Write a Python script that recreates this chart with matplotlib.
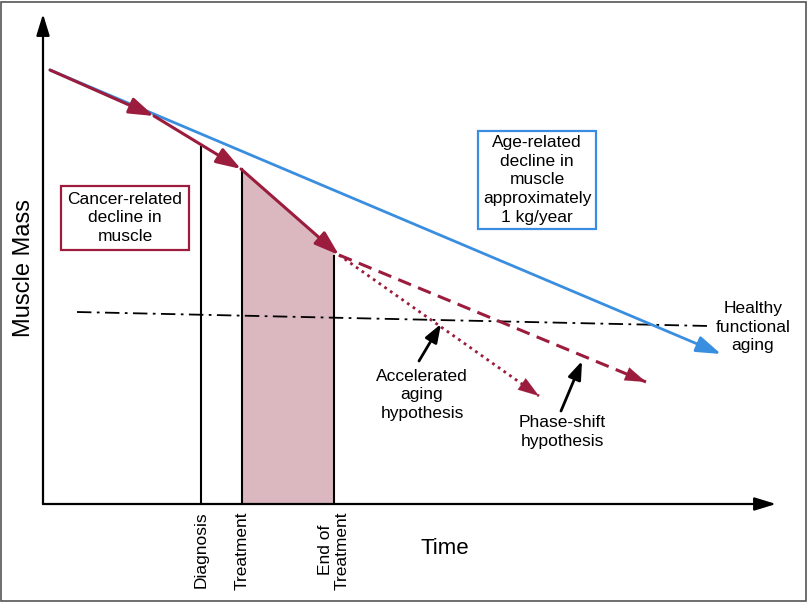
import numpy as np
import matplotlib.pyplot as plt
from matplotlib.patches import Rectangle

plt.rcParams['font.family'] = ['Liberation Sans', 'DejaVu Sans']

# schematic data (time, muscle mass) in chart units from the origin
age_line = [(7, 434), (678, 150)]
cancer_line_x = [7, 111, 198, 296]
cancer_line_y = [434, 388, 335, 249]
accel_end = (496, 108)
phase_end = (603, 122)
healthy_x = [34, 666]
healthy_y = [192, 178]
event_x = [158, 199, 291]
event_top = [357, 335, 248]
event_labels = ['Diagnosis', 'Treatment', 'End of\nTreatment']

red = '#9b1c3c'
blue = '#3a8ee0'
shade = '#dbb8bf'

fig = plt.figure(figsize=(8.07, 6.03), dpi=100)
# axes placed so one unit is one pixel, origin at the axis corner
ax = fig.add_axes([43 / 807, (603 - 504) / 603, (776 - 43) / 807, (504 - 14) / 603])
ax.set_xlim(0, 733)
ax.set_ylim(0, 490)
ax.axis('off')

head = '-|>,head_length=1.5,head_width=0.5'

# axes arrows
ax.annotate('', xy=(733, 0), xytext=(0, 0),
            arrowprops=dict(arrowstyle='-|>,head_length=1.3,head_width=0.4', color='black', lw=1.6,
                            shrinkA=0, shrinkB=0), annotation_clip=False)
ax.annotate('', xy=(0, 490), xytext=(0, 0),
            arrowprops=dict(arrowstyle='-|>,head_length=1.3,head_width=0.4', color='black', lw=1.6,
                            shrinkA=0, shrinkB=0), annotation_clip=False)

# shaded treatment period
xs = np.array([event_x[1], event_x[2]])
ys = np.interp(xs, cancer_line_x, cancer_line_y)
ax.fill_between(xs, 0, ys, color=shade, lw=0)

# event vertical lines
for x, top in zip(event_x, event_top):
    ax.plot([x, x], [0, top], color='black', lw=1.5)

# healthy functional aging
ax.plot(healthy_x, healthy_y, color='black', lw=1.3, dashes=[8, 3, 1.5, 3])

# age related decline
ax.annotate('', xy=age_line[1], xytext=age_line[0],
            arrowprops=dict(arrowstyle=head, color=blue, lw=2,
                            shrinkA=0, shrinkB=0))

# cancer related decline, segment by segment
for i in range(3):
    ax.annotate('', xy=(cancer_line_x[i + 1], cancer_line_y[i + 1]),
                xytext=(cancer_line_x[i], cancer_line_y[i]),
                arrowprops=dict(arrowstyle=head, color=red, lw=2.2,
                                shrinkA=0, shrinkB=0))

start = (cancer_line_x[-1], cancer_line_y[-1])
ax.plot([start[0], accel_end[0]], [start[1], accel_end[1]], color=red, lw=2, ls=(0, (1, 1.5)))
ax.annotate('', xy=accel_end, xytext=(accel_end[0] - 12, accel_end[1] + 8.4),
            arrowprops=dict(arrowstyle=head, color=red, lw=0.1,
                            shrinkA=0, shrinkB=0))
ax.plot([start[0], phase_end[0]], [start[1], phase_end[1]], color=red, lw=2.2, ls=(0, (4.5, 2.5)))
ax.annotate('', xy=phase_end, xytext=(phase_end[0] - 12, phase_end[1] + 5),
            arrowprops=dict(arrowstyle=head, color=red, lw=0.1,
                            shrinkA=0, shrinkB=0))

# pointer arrows
ax.annotate('', xy=(398, 180), xytext=(376, 143),
            arrowprops=dict(arrowstyle='-|>,head_length=1.1,head_width=0.4', color='black', lw=2,
                            shrinkA=0, shrinkB=0))
ax.annotate('', xy=(539, 143), xytext=(518, 93),
            arrowprops=dict(arrowstyle='-|>,head_length=1.1,head_width=0.4', color='black', lw=2,
                            shrinkA=0, shrinkB=0))

fs = 12.5
ls = 1.3
ax.text(379, 109, 'Accelerated\naging\nhypothesis', ha='center', va='center', fontsize=fs, linespacing=ls)
ax.text(519, 72, 'Phase-shift\nhypothesis', ha='center', va='center', fontsize=fs, linespacing=ls)
ax.text(710, 177, 'Healthy\nfunctional\naging', ha='center', va='center', fontsize=fs, linespacing=ls)

ax.text(82, 286, 'Cancer-related\ndecline in\nmuscle', ha='center', va='center', fontsize=fs,
        linespacing=ls,
        bbox=dict(boxstyle='square,pad=0.35', fc='white', ec=red, lw=1.6))
ax.text(494, 324, 'Age-related\ndecline in\nmuscle\napproximately\n1 kg/year', ha='center', va='center',
        fontsize=fs, linespacing=ls,
        bbox=dict(boxstyle='square,pad=0.25', fc='white', ec=blue, lw=1.6))

# event labels under the axis
for x, lab in zip(event_x, event_labels):
    ax.text(x, -7, lab, rotation=90, ha='center', va='top', fontsize=fs, linespacing=1.15)

ax.text(402, -45, 'Time', ha='center', va='center', fontsize=16)
ax.text(-19, 236, 'Muscle Mass', rotation=90, ha='center', va='center', fontsize=17)

# outer frame
fig.patches.append(Rectangle((0.0015, 0.0025), 0.997, 0.995, transform=fig.transFigure,
                             fill=False, ec='#555555', lw=1.2))

fig.savefig('out.png', dpi=100)
